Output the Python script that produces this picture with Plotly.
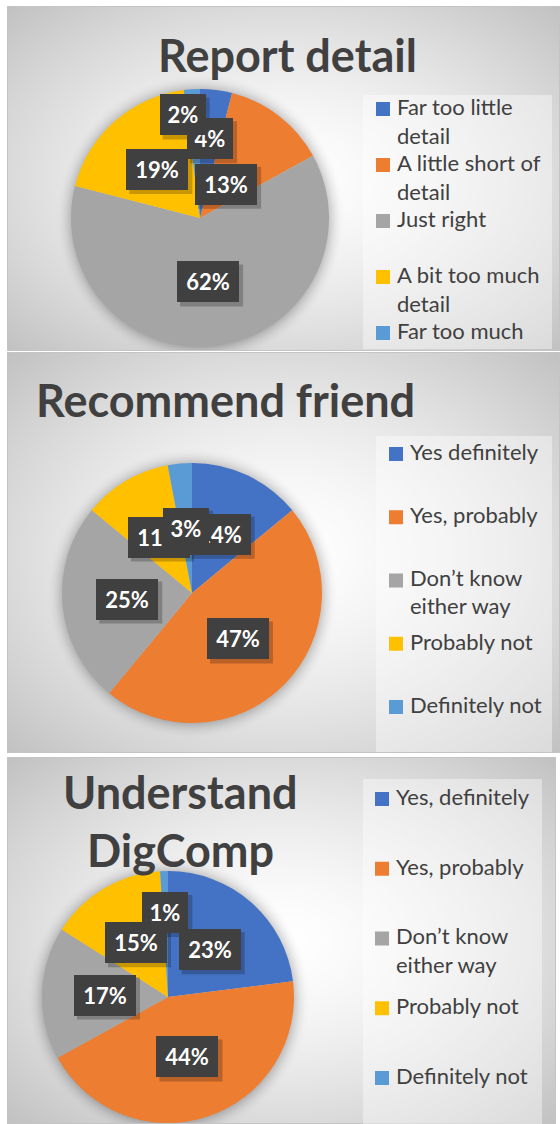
import base64
import math
import struct
import zlib

import numpy as np
import plotly.graph_objects as go

W, H = 560, 1124

# ---------------- data ----------------
report_labels = ["Far too little<br>detail", "A little short of<br>detail", "Just right",
                 "A bit too much<br>detail", "Far too much"]
report_values = [4, 13, 62, 19, 2]

recommend_labels = ["Yes definitely", "Yes, probably", "Don’t know<br>either way",
                    "Probably not", "Definitely not"]
recommend_values = [14, 47, 25, 11, 3]

understand_labels = ["Yes, definitely", "Yes, probably", "Don’t know<br>either way",
                     "Probably not", "Definitely not"]
understand_values = [23, 44, 17, 15, 1]

report_title = ["Report detail"]
recommend_title = ["Recommend friend"]
understand_title = ["Understand", "DigComp"]

slice_colors = ["#4472C4", "#ED7D31", "#A5A5A5", "#FFC000", "#5B9BD5"]

# ---------------- layout of the three chart panels (pixels) ----------------
panels = [
    dict(labels=report_labels, values=report_values, title=report_title,
         box=(7, 6, 560, 351), pie=(200, 218, 129),
         title_x=287, title_base=[72], title_size=45,
         legend_box=(363, 95, 552, 349), marker_x=376, text_x=396,
         first_base=115, step=56, line_gap=29,
         label_r=[0.62, 0.33, 0.5, 0.5, 0.81], label_nudge=[0, 0, 0, 0, -6]),
    dict(labels=recommend_labels, values=recommend_values, title=recommend_title,
         box=(7, 352, 560, 753), pie=(192, 593, 130),
         title_x=225, title_base=[417], title_size=45,
         legend_box=(376, 436, 552, 752), marker_x=389, text_x=409,
         first_base=460, step=63.25, line_gap=28,
         label_r=[0.5, 0.5, 0.5, 0.5, 0.5], label_nudge=[0, 0, 0, 0, 0]),
    dict(labels=understand_labels, values=understand_values, title=understand_title,
         box=(7, 757, 556, 1124), pie=(168, 997, 126),
         title_x=180, title_base=[809, 867], title_size=45,
         legend_box=(363, 779, 542, 1124), marker_x=375, text_x=395,
         first_base=805, step=69.75, line_gap=29,
         label_r=[0.5, 0.5, 0.5, 0.5, 0.67], label_nudge=[0, 0, 0, 0, 0]),
]

TEXT = "#404040"
FONT = "Lato"
LEGEND_SIZE = 22
LABEL_SIZE = 22


def px(x):
    return x / W


def py(y):
    return 1 - y / H


# ---------------- background: radial gradient panels with soft pie shadows ----------------
def png_uri(arr):
    h, w, _ = arr.shape
    raw = b"".join(b"\x00" + arr[r].tobytes() for r in range(h))

    def chunk(tag, data):
        return (struct.pack(">I", len(data)) + tag + data +
                struct.pack(">I", zlib.crc32(tag + data) & 0xFFFFFFFF))

    png = (b"\x89PNG\r\n\x1a\n" +
           chunk(b"IHDR", struct.pack(">IIBBBBB", w, h, 8, 2, 0, 0, 0)) +
           chunk(b"IDAT", zlib.compress(raw, 9)) + chunk(b"IEND", b""))
    return "data:image/png;base64," + base64.b64encode(png).decode()


yy, xx = np.mgrid[0:H, 0:W].astype(float)
canvas = np.full((H, W), 255.0)
for p in panels:
    x0, y0, x1, y1 = p["box"]
    inside = (xx >= x0) & (xx < x1) & (yy >= y0) & (yy < y1)
    cx, cy = (x0 + x1) / 2, (y0 + y1) / 2
    hw, hh = (x1 - x0) / 2, (y1 - y0) / 2
    t = np.sqrt(((xx - cx) / hw) ** 2 + ((yy - cy) / hh) ** 2) / math.sqrt(2)
    shade = 255 - 62 * np.clip(t, 0, 1) ** 1.5
    # soft shadow around the pie
    pcx, pcy, pr = p["pie"]
    d = np.sqrt((xx - pcx) ** 2 + (yy - pcy) ** 2) - pr
    halo = np.clip(1 - d / 16, 0, 1) ** 2
    shade = shade - 45 * halo
    canvas = np.where(inside, shade, canvas)
    # panel edge lines
    edge = inside & ((yy == y1 - 1) | (xx == x1 - 1) | (yy == y0) | (xx == x0))
    canvas = np.where(edge, 196, canvas)

rgb = np.repeat(np.clip(canvas, 0, 255).astype(np.uint8)[:, :, None], 3, axis=2)
background = png_uri(np.ascontiguousarray(rgb))

fig = go.Figure()
shapes = []
annotations = []

for p in panels:
    cx, cy, r = p["pie"]
    fig.add_trace(go.Pie(
        labels=p["labels"], values=p["values"],
        marker=dict(colors=slice_colors, line=dict(width=0)),
        sort=False, direction="clockwise", rotation=0,
        textinfo="none", showlegend=False, hole=0,
        domain=dict(x=[px(cx - r), px(cx + r)], y=[py(cy + r), py(cy - r)]),
        hovertemplate="%{label}: %{percent}<extra></extra>",
    ))

    # title
    ts = p["title_size"]
    for line, base in zip(p["title"], p["title_base"]):
        annotations.append(dict(
            text=line, x=px(p["title_x"]), y=py(base - 0.387 * ts),
            xref="paper", yref="paper", xanchor="center", yanchor="middle",
            showarrow=False, borderpad=0,
            font=dict(family=FONT, size=ts, color=TEXT, weight="bold")))

    # legend backdrop
    lx0, ly0, lx1, ly1 = p["legend_box"]
    shapes.append(dict(type="rect", xref="paper", yref="paper",
                       x0=px(lx0), x1=px(lx1), y0=py(ly1), y1=py(ly0),
                       fillcolor="rgba(255,255,255,0.4)", line=dict(width=0),
                       layer="below"))

    # legend entries
    lfs = LEGEND_SIZE
    for i, (lab, col) in enumerate(zip(p["labels"], slice_colors)):
        base = p["first_base"] + i * p["step"]
        shapes.append(dict(type="rect", xref="paper", yref="paper",
                           x0=px(p["marker_x"]), x1=px(p["marker_x"] + 14),
                           y0=py(base + 1), y1=py(base + 1 - 14),
                           fillcolor=col, line=dict(width=0), layer="above"))
        for j, part in enumerate(lab.split("<br>")):
            b = base + j * p["line_gap"]
            annotations.append(dict(
                text=part, x=px(p["text_x"]), y=py(b - 0.387 * lfs),
                xref="paper", yref="paper", xanchor="left", yanchor="middle",
                showarrow=False, borderpad=0,
                font=dict(family=FONT, size=lfs, color=TEXT)))

    # percentage labels in dark boxes at each slice's mid-angle
    total = sum(p["values"])
    cum = 0
    for i, v in enumerate(p["values"]):
        mid = (cum + v / 2) / total * 360 + p["label_nudge"][i]
        cum += v
        rr = p["label_r"][i] * r
        lx = cx + rr * math.sin(math.radians(mid))
        ly = cy - rr * math.cos(math.radians(mid))
        txt = f"{round(v / total * 100)}%"
        bw = 14 + 16 * len(txt)
        bh = 41
        shapes.append(dict(type="rect", xref="paper", yref="paper",
                           xsizemode="pixel", ysizemode="pixel",
                           xanchor=px(lx), yanchor=py(ly),
                           x0=-bw / 2 + 3, x1=bw / 2 + 4, y0=-bh / 2 - 4, y1=bh / 2 - 3,
                           fillcolor="rgba(0,0,0,0.22)", line=dict(width=0),
                           layer="above"))
        annotations.append(dict(
            text=txt, x=px(lx), y=py(ly), xref="paper", yref="paper",
            xanchor="center", yanchor="middle", showarrow=False,
            width=bw, height=bh, borderpad=0, borderwidth=0,
            bgcolor="#404040", align="center", valign="middle",
            font=dict(family=FONT, size=LABEL_SIZE, color="white", weight="bold")))

fig.update_layout(
    width=W, height=H, margin=dict(l=0, r=0, t=0, b=0),
    paper_bgcolor="white", plot_bgcolor="white",
    images=[dict(source=background, xref="paper", yref="paper", x=0, y=1,
                 sizex=1, sizey=1, xanchor="left", yanchor="top",
                 sizing="stretch", layer="below")],
    shapes=shapes, annotations=annotations,
)

fig.write_html("out.html")
